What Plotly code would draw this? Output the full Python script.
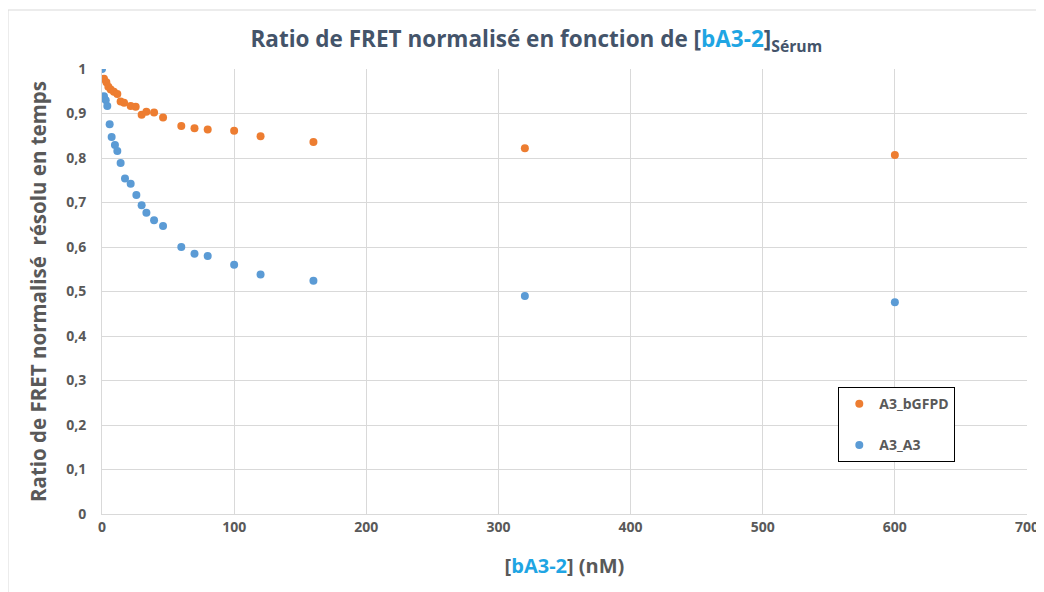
import plotly.graph_objects as go

# concentrations (nM) and normalised FRET ratios
x_bgfpd = [1.5, 3.3, 4.8, 6.6, 9, 11.6, 14.1, 16.7, 21.7, 25.5, 30, 33.6, 39.4, 46.2,
           60, 70, 80, 100, 120, 160, 320, 600]
y_bgfpd = [0.978, 0.970, 0.960, 0.954, 0.949, 0.944, 0.927, 0.924, 0.917, 0.915, 0.897,
           0.904, 0.902, 0.891, 0.872, 0.867, 0.864, 0.861, 0.849, 0.836, 0.822, 0.807]

x_a3 = [0, 1.5, 2.8, 4, 5.8, 7.3, 9.8, 11.6, 14.1, 17.4, 21.7, 26, 30, 33.6, 39.4, 46.2,
        60, 70, 80, 100, 120, 160, 320, 600]
y_a3 = [1.0, 0.939, 0.930, 0.917, 0.876, 0.847, 0.829, 0.816, 0.789, 0.754, 0.742, 0.717,
        0.694, 0.677, 0.660, 0.647, 0.600, 0.585, 0.580, 0.560, 0.538, 0.524, 0.490, 0.476]

ORANGE = "#ed7d31"
BLUE = "#5b9bd5"
GREY = "#595959"
TITLE_COL = "#44546a"
LIGHT_BLUE = "#1fa5e3"
FONT = "Open Sans"

fig = go.Figure()

fig.add_trace(go.Scatter(
    x=x_bgfpd, y=y_bgfpd, mode="markers", name="A3_bGFPD",
    marker=dict(color=ORANGE, size=8), legendgroup="a"
))
fig.add_trace(go.Scatter(
    x=x_a3, y=y_a3, mode="markers", name="A3_A3",
    marker=dict(color=BLUE, size=8), legendgroup="b"
))

# the page body adds 8px at top/left, so the figure is sized to fit the rest
fig.update_layout(
    width=1036, height=584,
    margin=dict(l=94, r=17, t=61, b=78, autoexpand=False),
    paper_bgcolor="white", plot_bgcolor="white",
    font=dict(family=FONT, color=GREY),
    separators=", ",
    title=dict(
        text=("Ratio de FRET normalisé en fonction de "
              f"[<span style='color:{LIGHT_BLUE}'>bA3-2</span>]<sub>Sérum</sub>"),
        x=0.51, xanchor="center", y=0.947, yanchor="middle",
        font=dict(family=FONT, size=22.5, color=TITLE_COL, weight="bold"),
    ),
    legend=dict(
        x=0.796, y=0.285, xanchor="left", yanchor="top",
        bordercolor="black", borderwidth=1, bgcolor="white",
        font=dict(family=FONT, size=14, color=GREY, weight="bold"),
        tracegroupgap=20, traceorder="grouped",
        itemwidth=30,
    ),
    showlegend=True,
)

fig.update_xaxes(
    range=[0, 700], dtick=100, tick0=0, automargin=False,
    showgrid=True, gridcolor="#d9d9d9", gridwidth=1,
    zeroline=False, showline=True, linecolor="#d9d9d9",
    ticks="", tickfont=dict(size=14, color=GREY, weight="bold"),
    title=dict(
        text=f"[<span style='color:{LIGHT_BLUE}'>bA3-2</span>] (nM)",
        font=dict(size=20, color=GREY, weight="bold"), standoff=24,
    ),
)
fig.update_yaxes(
    range=[0, 1], dtick=0.1, tick0=0, automargin=False,
    showgrid=True, gridcolor="#d9d9d9", gridwidth=1,
    zeroline=False, showline=True, linecolor="#d9d9d9",
    ticks="", tickfont=dict(size=14, color=GREY, weight="bold"),
    ticklabelstandoff=12,
    title=dict(
        text="Ratio de FRET normalisé  résolu en temps",
        font=dict(size=20.5, color=GREY, weight="bold"), standoff=14,
    ),
)

# light frame at top and left of the picture
fig.add_shape(type="line", xref="paper", yref="paper",
              x0=-94 / 925, x1=1.02, y0=1 + 59 / 445, y1=1 + 59 / 445,
              line=dict(color="#d9d9d9", width=1))
fig.add_shape(type="line", xref="paper", yref="paper",
              x0=-94 / 925, x1=-94 / 925, y0=-0.2, y1=1 + 59 / 445,
              line=dict(color="#d9d9d9", width=1))

fig.write_html("out.html")
